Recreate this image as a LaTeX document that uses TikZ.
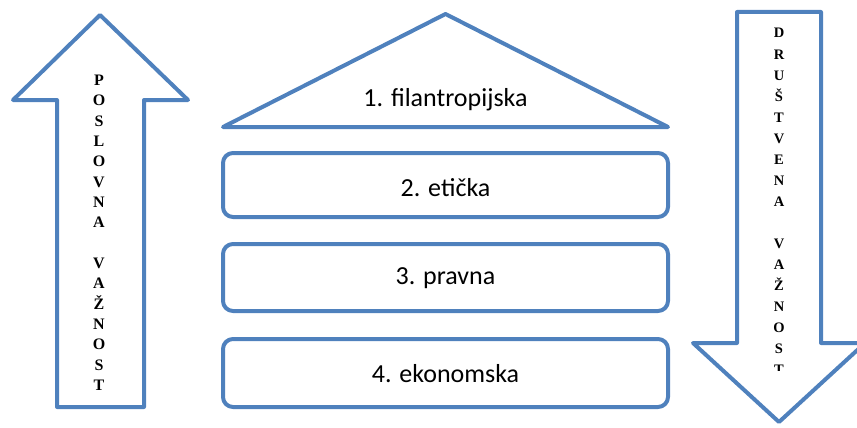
\documentclass[tikz,border=0pt]{standalone}
\usepackage{fontspec}
\setmainfont{Carlito}
\newfontfamily\lettfont{Liberation Serif}
\begin{document}
\begin{tikzpicture}[x=1pt,y=-1pt,
  shapeline/.style={draw=blueline,line width=4pt,line join=round},
  layerbox/.style={shapeline,rounded corners=10pt},
  layertext/.style={font=\fontsize{26}{30}\selectfont,text=black},
  lett/.style={font=\lettfont\bfseries\fontsize{16}{19}\selectfont,anchor=base,inner sep=0pt},
  lettr/.style={lett,font=\lettfont\bfseries\fontsize{14.5}{17}\selectfont}]
\definecolor{blueline}{HTML}{4F81BD}
\useasboundingbox (0,0) rectangle (857,428);
% left arrow (up)
\draw[shapeline] (100,15) -- (188,100) -- (144,100) -- (144,407) -- (57,407) -- (57,100) -- (13,100) -- cycle;
% right arrow (down)
\draw[shapeline] (737,12) -- (821,12) -- (821,343) -- (865,343) -- (779,422) -- (693,343) -- (737,343) -- cycle;
% triangle
\draw[shapeline] (445.5,14) -- (668,127) -- (223,127) -- cycle;
\node[layertext] (t1) at (445.5,100) {1. filantropijska};
% boxes
\draw[layerbox] (223,153) rectangle (668,217);
\node[layertext] (t2) at (445.5,188) {2. etička};
\draw[layerbox] (223,244) rectangle (668,311);
\node[layertext] (t3) at (445.5,278) {3. pravna};
\draw[layerbox] (223,339) rectangle (668,407);
\node[layertext] (t4) at (445.5,374) {4. ekonomska};
% left letters
\foreach \l [count=\i] in {P,O,S,L,O,V,N,A,{},V,A,Ž,N,O,S,T}
  \node[lett] (pl\i) at (99,{85.5+20.33*(\i-1)}) {\l};
% right letters
\begin{scope}
\clip (740,15) rectangle (818,370.5);
\foreach \l [count=\i] in {D,R,U,Š,T,V,E,N,A,{},V,A,Ž,N,O,S,T}
  \node[lettr] (dr\i) at (779,{38+21.06*(\i-1)}) {\l};
\end{scope}
\end{tikzpicture}
\end{document}
